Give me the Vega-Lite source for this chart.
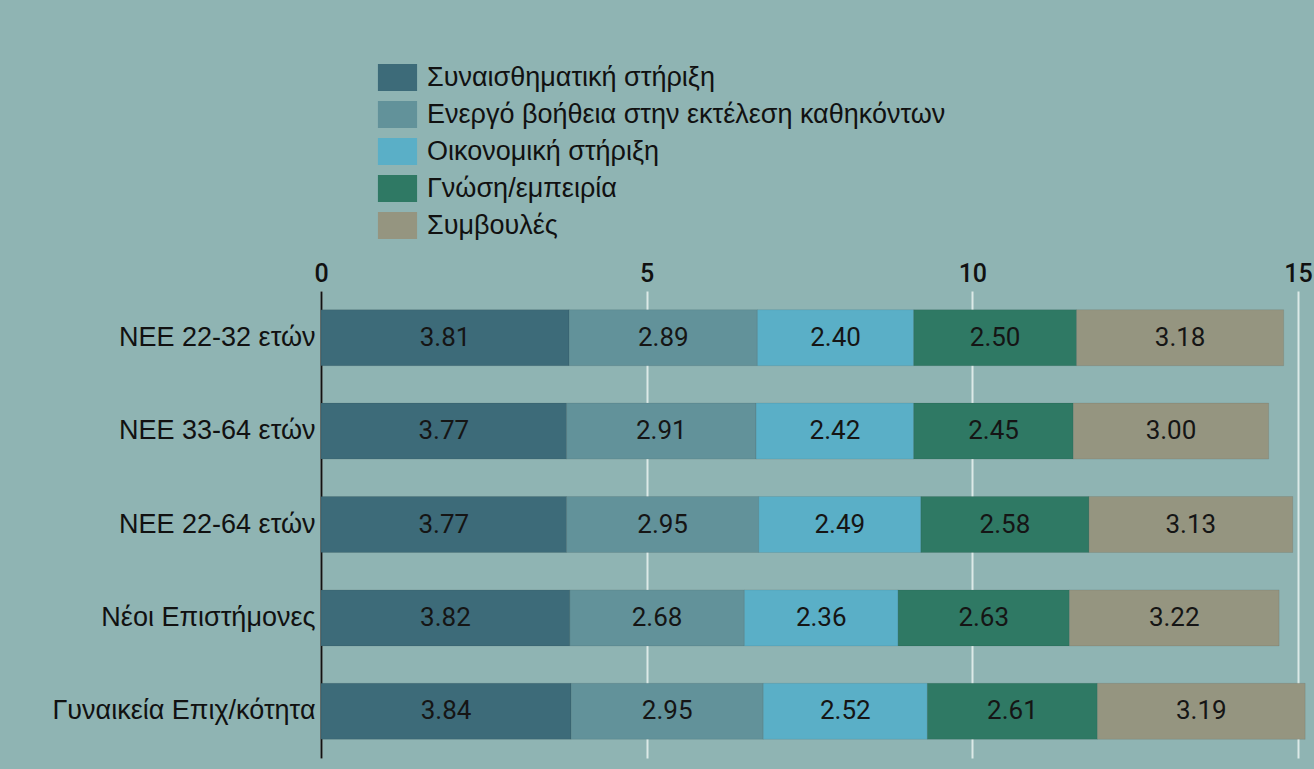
{
  "$schema": "https://vega.github.io/schema/vega-lite/v6.json",
  "width": 977,
  "height": 467,
  "autosize": {"type": "none"},
  "padding": {"left": 321, "top": 291, "right": 16, "bottom": 11},
  "background": "#8fb4b3",
  "config": {
    "view": {"stroke": null},
    "font": "Liberation Sans"
  },
  "data": {
    "values": [
      {"group": "ΝΕΕ 22-32 ετών", "type": "Συναισθηματική στήριξη", "value": 3.81},
      {"group": "ΝΕΕ 22-32 ετών", "type": "Ενεργό βοήθεια στην εκτέλεση καθηκόντων", "value": 2.89},
      {"group": "ΝΕΕ 22-32 ετών", "type": "Οικονομική στήριξη", "value": 2.40},
      {"group": "ΝΕΕ 22-32 ετών", "type": "Γνώση/εμπειρία", "value": 2.50},
      {"group": "ΝΕΕ 22-32 ετών", "type": "Συμβουλές", "value": 3.18},
      {"group": "ΝΕΕ 33-64 ετών", "type": "Συναισθηματική στήριξη", "value": 3.77},
      {"group": "ΝΕΕ 33-64 ετών", "type": "Ενεργό βοήθεια στην εκτέλεση καθηκόντων", "value": 2.91},
      {"group": "ΝΕΕ 33-64 ετών", "type": "Οικονομική στήριξη", "value": 2.42},
      {"group": "ΝΕΕ 33-64 ετών", "type": "Γνώση/εμπειρία", "value": 2.45},
      {"group": "ΝΕΕ 33-64 ετών", "type": "Συμβουλές", "value": 3.00},
      {"group": "ΝΕΕ 22-64 ετών", "type": "Συναισθηματική στήριξη", "value": 3.77},
      {"group": "ΝΕΕ 22-64 ετών", "type": "Ενεργό βοήθεια στην εκτέλεση καθηκόντων", "value": 2.95},
      {"group": "ΝΕΕ 22-64 ετών", "type": "Οικονομική στήριξη", "value": 2.49},
      {"group": "ΝΕΕ 22-64 ετών", "type": "Γνώση/εμπειρία", "value": 2.58},
      {"group": "ΝΕΕ 22-64 ετών", "type": "Συμβουλές", "value": 3.13},
      {"group": "Νέοι Επιστήμονες", "type": "Συναισθηματική στήριξη", "value": 3.82},
      {"group": "Νέοι Επιστήμονες", "type": "Ενεργό βοήθεια στην εκτέλεση καθηκόντων", "value": 2.68},
      {"group": "Νέοι Επιστήμονες", "type": "Οικονομική στήριξη", "value": 2.36},
      {"group": "Νέοι Επιστήμονες", "type": "Γνώση/εμπειρία", "value": 2.63},
      {"group": "Νέοι Επιστήμονες", "type": "Συμβουλές", "value": 3.22},
      {"group": "Γυναικεία Επιχ/κότητα", "type": "Συναισθηματική στήριξη", "value": 3.84},
      {"group": "Γυναικεία Επιχ/κότητα", "type": "Ενεργό βοήθεια στην εκτέλεση καθηκόντων", "value": 2.95},
      {"group": "Γυναικεία Επιχ/κότητα", "type": "Οικονομική στήριξη", "value": 2.52},
      {"group": "Γυναικεία Επιχ/κότητα", "type": "Γνώση/εμπειρία", "value": 2.61},
      {"group": "Γυναικεία Επιχ/κότητα", "type": "Συμβουλές", "value": 3.19}
    ]
  },
  "transform": [
    {"stack": "value", "groupby": ["group"], "as": ["v0", "v1"]}
  ],
  "layer": [
    {
      "mark": {"type": "bar", "stroke": "#000000", "strokeOpacity": 0.08, "strokeWidth": 1},
      "encoding": {
        "y": {
          "field": "group",
          "type": "nominal",
          "sort": null,
          "title": null,
          "scale": {"paddingInner": 0.4, "paddingOuter": 0.2},
          "axis": {
            "ticks": false,
            "domainColor": "#111111",
            "domainWidth": 2,
            "labelFontSize": 27,
            "labelColor": "#111111",
            "labelPadding": 6,
            "labelLimit": 400,
            "labelFont": "Liberation Sans"
          }
        },
        "x": {
          "field": "v0",
          "type": "quantitative",
          "title": null,
          "scale": {"domain": [0, 15], "nice": false},
          "axis": {
            "orient": "top",
            "values": [0, 5, 10, 15],
            "format": "d",
            "ticks": false,
            "domain": false,
            "grid": true,
            "gridColor": "#dce9e7",
            "gridWidth": 2,
            "labelFontSize": 25,
            "labelFont": "Roboto",
            "labelFontWeight": 500,
            "labelColor": "#111111",
            "labelPadding": 5,
            "labelFlush": false
          }
        },
        "x2": {"field": "v1"},
        "color": {
          "field": "type",
          "type": "nominal",
          "scale": {
            "domain": ["Συναισθηματική στήριξη", "Ενεργό βοήθεια στην εκτέλεση καθηκόντων", "Οικονομική στήριξη", "Γνώση/εμπειρία", "Συμβουλές"],
            "range": ["#3d6b79", "#62929a", "#5aafc7", "#2f7964", "#959580"]
          },
          "legend": {
            "title": null,
            "orient": "none",
            "legendX": 63,
            "legendY": -227,
            "symbolType": "M-1.45,-1H1.45V1H-1.45Z",
            "symbolSize": 729,
            "symbolStrokeWidth": 0,
            "symbolOpacity": 1,
            "labelFontSize": 27,
            "labelColor": "#111111",
            "labelFont": "Liberation Sans",
            "labelOffset": 16,
            "rowPadding": 9,
            "labelLimit": 900
          }
        }
      }
    },
    {
      "transform": [
        {"fold": ["v0", "v1"], "as": ["edge", "pos"]},
        {"aggregate": [{"op": "mean", "field": "pos", "as": "mid"}], "groupby": ["group", "type", "value"]}
      ],
      "mark": {"type": "text", "fontSize": 26, "font": "Roboto", "color": "#151515", "align": "center", "baseline": "middle"},
      "encoding": {
        "y": {"field": "group", "type": "nominal", "sort": null},
        "x": {"field": "mid", "type": "quantitative"},
        "text": {"field": "value", "type": "quantitative", "format": ".2f"}
      }
    }
  ]
}
